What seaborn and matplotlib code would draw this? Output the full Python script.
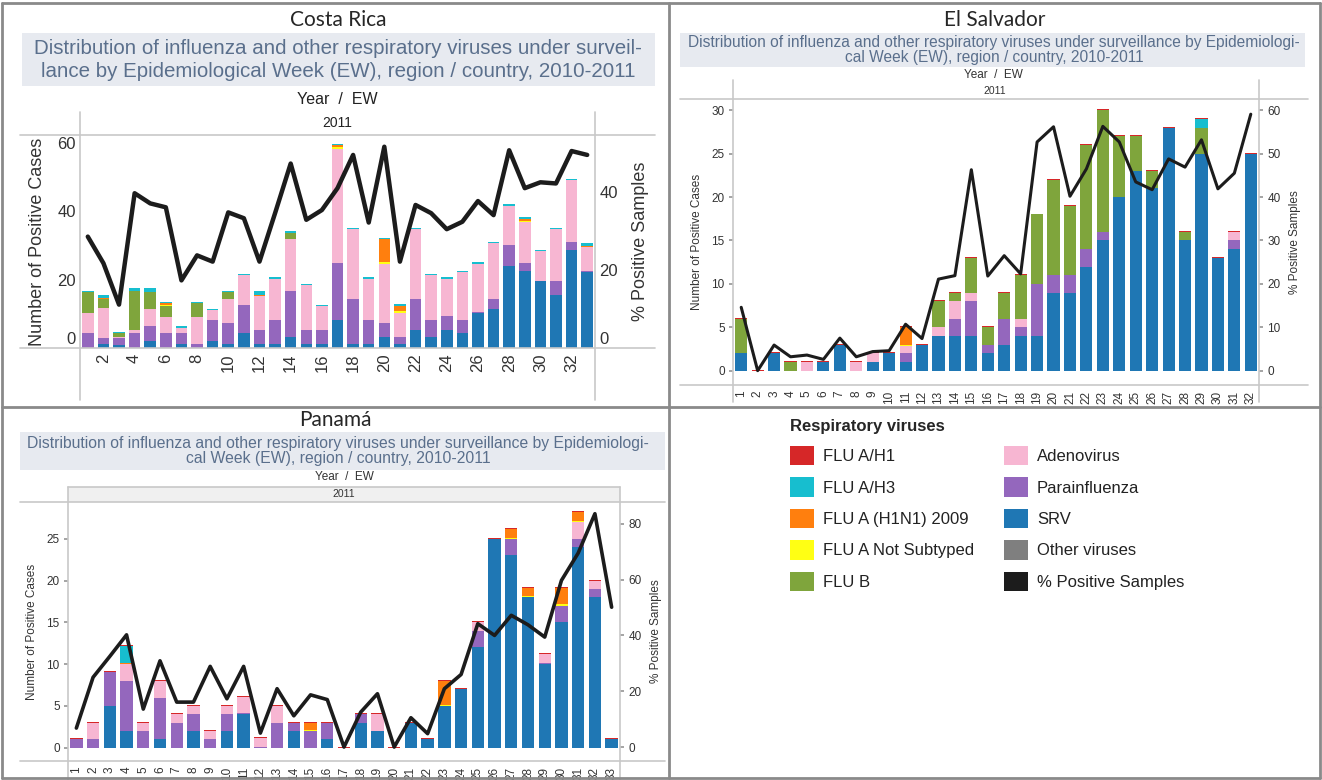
import numpy as np
import pandas as pd
import matplotlib
matplotlib.use("Agg")
import matplotlib.pyplot as plt
import matplotlib.transforms as mtrans
import seaborn as sns
from matplotlib.patches import Patch, Rectangle
from matplotlib.lines import Line2D

# ---------------- data ----------------
virus_order = ["FLU A/H1", "FLU A/H3", "FLU A (H1N1) 2009", "FLU A Not Subtyped",
               "FLU B", "Adenovirus", "Parainfluenza", "SRV", "Other viruses"]
virus_colors = ["#d62728", "#17becf", "#ff7f0e", "#ffff14", "#7fa53c",
                "#f7b6d2", "#9467bd", "#1f77b4", "#7f7f7f"]
pct_label = "% Positive Samples"
pct_color = "#1c1c1c"

# Costa Rica, EW 1-33 (2011)
cr_weeks = list(range(1, 34))
cr_srv = [0, 1.2, 1.0, 0, 2.1, 0, 1.2, 0, 2.1, 1.2, 4.4, 1.2, 1.2, 3.1, 1.2, 1.2, 8.3,
          1.2, 1.2, 3.1, 1.2, 5.4, 3.1, 5.4, 4.4, 10.4, 11.5, 23.9, 22.6, 19.5, 15.4, 28.8, 22.4]
cr_para = [4.4, 1.8, 1.8, 4.4, 4.2, 4.4, 3.2, 1.2, 6.1, 6.1, 8.3, 4.2, 7.1, 13.6, 4.2, 4.2, 16.6,
           13.3, 7.1, 4.2, 2.0, 9.1, 5.2, 3.9, 3.9, 0.2, 2.9, 6.2, 2.2, 0.2, 4.3, 2.2, 0.3]
cr_adeno = [6.0, 8.6, 0.3, 1.0, 5.2, 4.8, 1.5, 8.0, 2.9, 7.1, 8.6, 9.8, 12.0, 15.3, 13.0, 6.8, 33.4,
            20.4, 12.0, 17.3, 7.1, 20.4, 13.0, 11.0, 14.0, 14.0, 16.3, 11.6, 12.2, 8.8, 15.1, 18.2, 6.8]
cr_flub = [6.0, 2.8, 1.2, 11.2, 5.0, 3.0, 0, 4.0, 0, 2.0, 0, 0, 0, 1.7, 0, 0, 0,
           0, 0, 0, 0, 0, 0, 0, 0, 0, 0, 0, 0, 0, 0, 0, 0]
cr_notsub = [0, 0, 0, 0, 0, 0.4, 0, 0, 0, 0, 0, 0, 0, 0, 0, 0, 0.5,
             0, 0, 0.5, 0.5, 0, 0, 0, 0, 0, 0, 0, 0.3, 0, 0, 0, 0]
cr_h1n1 = [0, 0.2, 0, 0, 0, 0.5, 0, 0, 0, 0, 0, 0.3, 0, 0, 0, 0, 0.6,
           0, 0, 6.8, 1.5, 0, 0, 0, 0, 0, 0, 0, 0.5, 0, 0, 0, 0.4]
cr_h3 = [0.3, 1.0, 0.4, 1.0, 1.0, 0.3, 0.4, 0.3, 0.3, 0.3, 0.4, 1.3, 0.4, 0.5, 0.4, 0.5, 0.4,
         0.3, 0.4, 0.3, 0.5, 0.3, 0.4, 0.4, 0.4, 0.5, 0.4, 0.5, 0.5, 0.3, 0.3, 0.4, 1.0]
cr_pct = [28.5, 21.7, 11.1, 39.6, 37.0, 36.0, 17.3, 23.7, 22.1, 34.7, 33.2, 22.1, 34.5, 47.2, 32.8,
          35.3, 40.9, 49.4, 32.1, 51.5, 22.1, 36.6, 34.5, 30.4, 32.3, 37.6, 34.0, 50.6, 40.9,
          42.4, 42.1, 50.4, 49.4]

# El Salvador, EW 1-32 (2011)
sv_weeks = list(range(1, 33))
sv_srv = [2, 0, 2, 0, 0, 1, 3, 0, 1, 2, 1, 3, 4, 4, 4, 2, 3, 4, 4, 9, 9, 12, 15, 20, 23, 21,
          28, 15, 25, 13, 14, 25]
sv_para = [0, 0, 0, 0, 0, 0, 0, 0, 0, 0, 1, 0, 0, 2, 4, 1, 3, 1, 6, 2, 2, 2, 1, 0, 0, 0,
           0, 0, 0, 0, 1, 0]
sv_adeno = [0, 0, 0, 0, 1, 0, 0, 1, 1, 0, 0.85, 0, 1, 2, 1, 0, 0, 1, 0, 0, 0, 0, 0, 0, 0, 0,
            0, 0, 0, 0, 1, 0]
sv_flub = [4, 0, 0, 1, 0, 0, 0, 0, 0, 0, 0, 0, 3, 1, 4, 2, 3, 5, 8, 11, 8, 12, 14, 7, 4, 2,
           0, 1, 3, 0, 0, 0]
sv_notsub = [0] * 10 + [0.15] + [0] * 21
sv_h1n1 = [0] * 10 + [2] + [0] * 21
sv_h3 = [0] * 28 + [1] + [0] * 3
sv_h1 = [0.1] * 32
sv_pct = [14.6, 0, 5.9, 3.2, 3.6, 2.6, 7.5, 3.2, 4.4, 4.6, 10.7, 7.4, 21.1, 21.9, 46.3, 21.8,
          26.5, 22.3, 52.7, 56.2, 40.2, 46.5, 56.3, 52.7, 43.5, 41.7, 48.8, 46.9, 53.2, 41.9,
          45.5, 59.1]

# Panama, EW 1-33 (2011)
pa_weeks = list(range(1, 34))
pa_srv = [0, 0, 5, 2, 0, 1, 0, 2, 0, 2, 4, 0, 0, 2, 0, 1, 0, 3, 2, 0, 3, 1, 5, 7, 12, 25,
          23, 18, 10, 15, 24, 18, 1]
pa_para = [1, 1, 4, 6, 2, 5, 3, 2, 1, 2, 0.1, 0.1, 3, 1, 2, 2, 0, 1, 0, 0, 0, 0, 0, 0, 2, 0,
           2, 0, 0.15, 2, 1, 1, 0]
pa_adeno = [0, 2, 0, 2, 1, 2, 1, 1, 1, 1, 2, 1, 2, 0, 0, 0, 0, 0, 2, 0, 0, 0, 0, 0, 1, 0,
            0, 0, 1, 0, 2, 1, 0]
pa_notsub = [0, 0, 0, 0, 0, 0, 0, 0, 0, 0, 0, 0, 0, 0, 0.15, 0, 0, 0, 0, 0, 0, 0, 0.15, 0, 0, 0,
             0.15, 0.15, 0, 0.15, 0.15, 0, 0]
pa_h1n1 = [0, 0, 0, 0.15, 0, 0, 0, 0, 0, 0, 0, 0, 0, 0, 0.85, 0, 0, 0, 0, 0, 0, 0, 2.85, 0, 0, 0,
           1, 1, 0, 2, 1, 0, 0]
pa_h3 = [0, 0, 0, 2, 0, 0, 0, 0, 0, 0, 0, 0, 0, 0, 0, 0, 0, 0, 0, 0, 0, 0, 0, 0, 0, 0,
         0, 0, 0, 0, 0, 0, 0]
pa_h1 = [0.12] * 33
pa_pct = [6.8, 25.0, 32.5, 40.2, 13.6, 30.9, 16.1, 16.1, 28.9, 17.3, 28.9, 5.0, 20.9, 11.2, 18.7,
          17.0, 0, 12.5, 19.1, 0, 10.5, 4.8, 20.9, 26.0, 44.2, 40.0, 47.2, 43.8, 39.4, 59.7,
          69.5, 83.6, 50.1]

# ---------------- helpers ----------------
W, H = 1322, 780
palette = dict(zip(virus_order, virus_colors))
stack_order = virus_order[:-1]  # first level ends on top of the stack


def make_df(weeks, series):
    rows = []
    for name, vals in series.items():
        for w, v in zip(weeks, vals):
            rows.append((w, name, v))
    return pd.DataFrame(rows, columns=["week", "virus", "count"])


def rect(x0, y0, x1, y1):
    return [x0 / W, 1 - y1 / H, (x1 - x0) / W, (y1 - y0) / H]


def hline(fig, y, x0, x1, color="#c8c8c8", lw=1.2):
    fig.add_artist(Line2D([x0 / W, x1 / W], [1 - y / H, 1 - y / H], transform=fig.transFigure,
                          color=color, lw=lw))


def vline(fig, x, y0, y1, color="#c8c8c8", lw=1.2):
    fig.add_artist(Line2D([x / W, x / W], [1 - y0 / H, 1 - y1 / H], transform=fig.transFigure,
                          color=color, lw=lw))


def ftext(fig, x, y, s, **kw):
    fig.text(x / W, 1 - y / H, s, ha=kw.pop("ha", "center"), va=kw.pop("va", "center"), **kw)


sns.set_theme(style="white")
plt.rcParams["font.family"] = ["Liberation Sans", "DejaVu Sans"]

fig = plt.figure(figsize=(W / 100, H / 100), dpi=100)
fig.patch.set_facecolor("white")


def lift_zero(axis_obj, px):
    if px <= 0:
        return
    for lbl in axis_obj.get_yticklabels():
        if lbl.get_text() == "0":
            lbl.set_transform(lbl.get_transform() +
                              mtrans.ScaledTranslation(0, px / 100, fig.dpi_scale_trans))


def panel(box, weeks, series, pct, ylim_l, ylim_r, yt_l, yt_r, xticks, fs_tick, fs_lab,
          line_w, tick_len, minor_div, lab_pads, zero_lift=0):
    ax = fig.add_axes(rect(*box))
    df = make_df(weeks, series)
    sns.histplot(data=df, x="week", weights="count", hue="virus", hue_order=stack_order,
                 multiple="stack", discrete=True, shrink=0.74, palette=palette, alpha=1,
                 linewidth=0, legend=False, ax=ax)
    ax.set_xlim(0.5, len(weeks) + 0.5)
    ax.set_ylim(*ylim_l)
    ax.set_yticks(yt_l)
    ax.set_xticks(xticks)
    ax.set_xticklabels([str(t) for t in xticks], rotation=90, fontsize=fs_tick, color="#333333")
    ax.set_yticklabels([str(t) for t in yt_l], fontsize=fs_tick, color="#333333")
    ax.set_xlabel("")
    ax.set_ylabel("Number of Positive Cases", fontsize=fs_lab, color="#333333", labelpad=lab_pads[0])
    for s in ax.spines.values():
        s.set_visible(False)
    ax.tick_params(axis="y", length=tick_len, color="#999999", pad=3)
    ax.tick_params(axis="x", length=0, pad=4)
    if minor_div:
        ax.set_xticks(np.arange(1.5, len(weeks), 1.0), minor=True)
        ax.tick_params(axis="x", which="minor", length=5, color="#bbbbbb", width=0.8)
    ax.set_facecolor("none")
    lift_zero(ax, zero_lift)

    ax2 = ax.twinx()
    sns.lineplot(x=weeks, y=pct, ax=ax2, color=pct_color, lw=line_w)
    ax2.set_ylim(*ylim_r)
    ax2.set_yticks(yt_r)
    ax2.set_yticklabels([str(t) for t in yt_r], fontsize=fs_tick, color="#333333")
    ax2.set_ylabel(pct_label, fontsize=fs_lab, color="#333333", labelpad=lab_pads[1])
    ax2.tick_params(axis="y", length=tick_len, color="#999999", pad=3)
    for s in ax2.spines.values():
        s.set_visible(False)
    lift_zero(ax2, zero_lift)
    return ax, ax2


SUB_BG = "#e7eaf0"
SUB_FG = "#5a6f8c"
sub1 = "Distribution of influenza and other respiratory viruses under surveil-\nlance by Epidemiological Week (EW), region / country, 2010-2011"
sub2 = "Distribution of influenza and other respiratory viruses under surveillance by Epidemiologi-\ncal Week (EW), region / country, 2010-2011"

# ---- Costa Rica ----
fig.add_artist(Rectangle((22 / W, 1 - 86 / H), (655 - 22) / W, (86 - 33) / H,
                         transform=fig.transFigure, color=SUB_BG, lw=0))
ftext(fig, 338, 20, "Costa Rica", fontsize=15, family=["Lato", "DejaVu Sans"])
ftext(fig, 338, 60, sub1, fontsize=14.8, color=SUB_FG, linespacing=1.25)
ftext(fig, 337, 99, "Year  /  EW", fontsize=11.5, color="#222222")
ftext(fig, 337, 123, "2011", fontsize=10, color="#222222")
panel((80, 135, 595, 348), cr_weeks,
      {"FLU A/H3": cr_h3, "FLU A (H1N1) 2009": cr_h1n1, "FLU A Not Subtyped": cr_notsub,
       "FLU B": cr_flub, "Adenovirus": cr_adeno, "Parainfluenza": cr_para, "SRV": cr_srv},
      cr_pct, (0, 62.4), (0, 54.5), [0, 20, 40, 60], [0, 20, 40],
      list(range(2, 34, 2)), 12, 13, 3.2, 0, False, (8, 10), zero_lift=10)
hline(fig, 135, 20, 655)
hline(fig, 348, 20, 655)
vline(fig, 80, 112, 400)
vline(fig, 595, 112, 400)

# ---- El Salvador ----
fig.add_artist(Rectangle((680 / W, 1 - 67 / H), (1305 - 680) / W, (67 - 33) / H,
                         transform=fig.transFigure, color=SUB_BG, lw=0))
ftext(fig, 995, 20, "El Salvador", fontsize=15, family=["Lato", "DejaVu Sans"])
ftext(fig, 994, 50, sub2, fontsize=11.2, color=SUB_FG, linespacing=1.02)
ftext(fig, 993, 75, "Year  /  EW", fontsize=8.5, color="#333333")
ftext(fig, 995, 91, "2011", fontsize=7.5, color="#333333")
panel((733, 99, 1259, 385), sv_weeks,
      {"FLU A/H1": sv_h1, "FLU A/H3": sv_h3, "FLU A (H1N1) 2009": sv_h1n1,
       "FLU A Not Subtyped": sv_notsub, "FLU B": sv_flub, "Adenovirus": sv_adeno,
       "Parainfluenza": sv_para, "SRV": sv_srv},
      sv_pct, (-1.65, 31.3), (-3.3, 62.6), [0, 5, 10, 15, 20, 25, 30],
      [0, 10, 20, 30, 40, 50, 60], sv_weeks, 8.5, 8.5, 2.2, 3, True, (6, 6))
hline(fig, 99, 680, 1308)
hline(fig, 385, 680, 1308)
vline(fig, 733, 80, 402)
vline(fig, 1259, 80, 402)

# ---- Panama ----
fig.add_artist(Rectangle((20 / W, 1 - 470 / H), (665 - 20) / W, (470 - 432) / H,
                         transform=fig.transFigure, color=SUB_BG, lw=0))
fig.add_artist(Rectangle((68 / W, 1 - 502 / H), (620 - 68) / W, (502 - 487) / H,
                         transform=fig.transFigure, color="#f0f0f0", lw=0))
ftext(fig, 335, 420, "Panamá", fontsize=15, family=["Lato", "DejaVu Sans"])
ftext(fig, 338, 451, sub2, fontsize=11.3, color=SUB_FG, linespacing=1.02)
ftext(fig, 344, 477, "Year  /  EW", fontsize=8.5, color="#333333")
ftext(fig, 344, 494, "2011", fontsize=7.5, color="#333333")
panel((68, 502, 620, 761), pa_weeks,
      {"FLU A/H1": pa_h1, "FLU A/H3": pa_h3, "FLU A (H1N1) 2009": pa_h1n1,
       "FLU A Not Subtyped": pa_notsub, "Adenovirus": pa_adeno,
       "Parainfluenza": pa_para, "SRV": pa_srv},
      pa_pct, (-1.6, 29.4), (-5, 87.8), [0, 5, 10, 15, 20, 25], [0, 20, 40, 60, 80],
      pa_weeks, 8.5, 8.5, 2.6, 3, True, (6, 6))
hline(fig, 502, 20, 665)
hline(fig, 761, 20, 665)
hline(fig, 487, 68, 620)
vline(fig, 68, 487, 780)
vline(fig, 620, 487, 780)

# ---- legend ----
handles = [Patch(facecolor=c, edgecolor="none") for c in virus_colors]
handles.append(Patch(facecolor=pct_color, edgecolor="none"))
labels = virus_order + [pct_label]
leg = fig.legend(handles, labels, ncol=2, loc="upper left",
                 bbox_to_anchor=(775 / W, 1 - 404 / H), frameon=False, fontsize=12,
                 title="Respiratory viruses", title_fontproperties={"weight": "bold", "size": 12},
                 handlelength=1.45, handleheight=1.45, labelspacing=0.7, handletextpad=0.55,
                 columnspacing=1.75, alignment="left")
for t in leg.get_texts():
    t.set_color("#222222")

# ---- panel frame ----
FR = "#8a8a8a"
hline(fig, 3, 2, 1320, FR, 2)
hline(fig, 778, 2, 1320, FR, 2)
hline(fig, 407, 2, 1320, FR, 2)
vline(fig, 2, 3, 778, FR, 2)
vline(fig, 1320, 3, 778, FR, 2)
vline(fig, 669, 3, 778, FR, 2)

fig.savefig("out.png", dpi=100, facecolor="white")
